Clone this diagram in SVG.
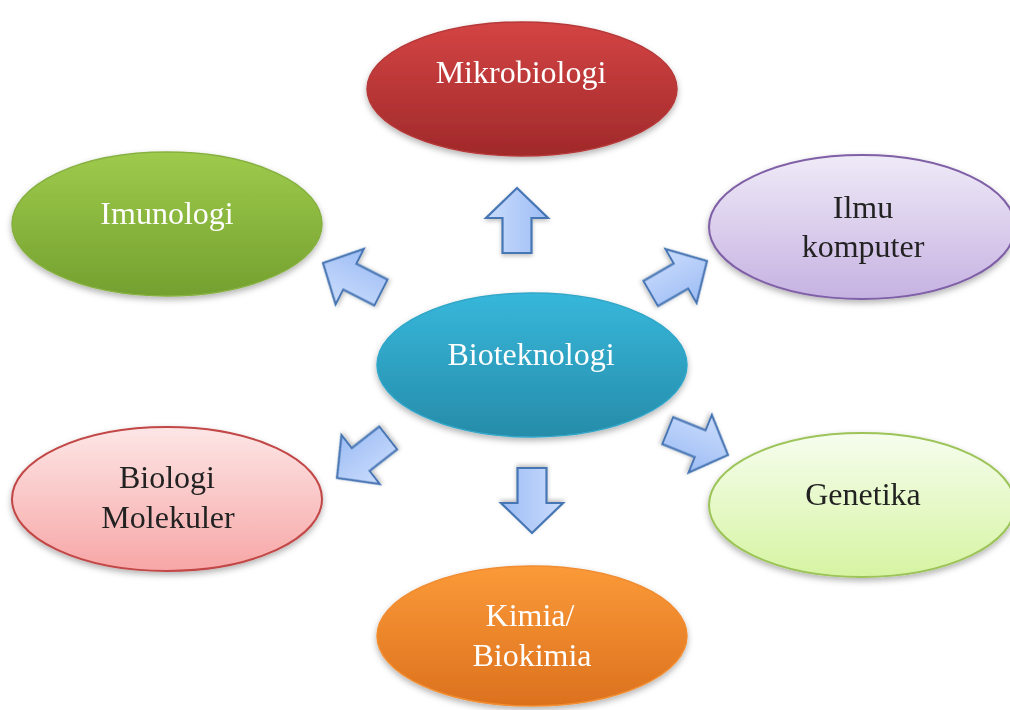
<svg xmlns="http://www.w3.org/2000/svg" width="1010" height="710" viewBox="0 0 1010 710">
<defs>
<linearGradient id="gRed" x1="0" y1="0" x2="0" y2="1"><stop offset="0" stop-color="#d44444"/><stop offset="1" stop-color="#a0292a"/></linearGradient>
<linearGradient id="gGreen" x1="0" y1="0" x2="0" y2="1"><stop offset="0" stop-color="#9ecb4c"/><stop offset="1" stop-color="#74a02f"/></linearGradient>
<linearGradient id="gLav" x1="0" y1="0" x2="0" y2="1"><stop offset="0" stop-color="#efeaf7"/><stop offset="1" stop-color="#c6b2e2"/></linearGradient>
<linearGradient id="gCyan" x1="0" y1="0" x2="0" y2="1"><stop offset="0" stop-color="#37b7db"/><stop offset="1" stop-color="#268ca9"/></linearGradient>
<linearGradient id="gPink" x1="0" y1="0" x2="0" y2="1"><stop offset="0" stop-color="#fde6e6"/><stop offset="1" stop-color="#f7a6a6"/></linearGradient>
<linearGradient id="gLime" x1="0" y1="0" x2="0" y2="1"><stop offset="0" stop-color="#f6fdee"/><stop offset="1" stop-color="#d6f4a2"/></linearGradient>
<linearGradient id="gOrange" x1="0" y1="0" x2="0" y2="1"><stop offset="0" stop-color="#fb9a38"/><stop offset="1" stop-color="#dc711e"/></linearGradient>
<linearGradient id="gArrow" x1="0" y1="0" x2="1" y2="0"><stop offset="0" stop-color="#cadcfc"/><stop offset="1" stop-color="#9dbdf5"/></linearGradient>
<filter id="sh" x="-10%" y="-10%" width="120%" height="130%"><feDropShadow dx="0" dy="3" stdDeviation="3" flood-color="#000" flood-opacity="0.3"/></filter>
<filter id="ash" x="-30%" y="-30%" width="160%" height="160%"><feDropShadow dx="0" dy="2" stdDeviation="2" flood-color="#000" flood-opacity="0.25"/></filter>
<path id="arr" d="M0,0 L31,30 L14.5,30 L14.5,65 L-14.5,65 L-14.5,30 L-31,30 Z"/>
</defs>
<style>
.lbl{font-family:"Liberation Serif","Times New Roman",serif;font-size:32px;text-anchor:middle}
.w{fill:#ffffff}
.d{fill:#222222}
.node{filter:url(#sh)}
.a{fill:url(#gArrow);stroke:#4776b4;stroke-width:2.2;stroke-linejoin:miter;filter:url(#ash)}
</style>
<rect width="1010" height="710" fill="#ffffff"/>
<g id="connectors">
<use href="#arr" class="a" transform="translate(517,188)"/>
<use href="#arr" class="a" transform="translate(532,533) rotate(180)"/>
<use href="#arr" class="a" transform="translate(323,263) rotate(-63)"/>
<use href="#arr" class="a" transform="translate(707,261) rotate(60)"/>
<use href="#arr" class="a" transform="translate(337,478) rotate(-128)"/>
<use href="#arr" class="a" transform="translate(728,455) rotate(112)"/>
</g>
<g id="mikrobiologi" class="node">
<ellipse cx="522" cy="89" rx="155" ry="67" fill="url(#gRed)" stroke="#b63838" stroke-width="1.5"/>
<text class="lbl w" x="521" y="83">Mikrobiologi</text>
</g>
<g id="imunologi" class="node">
<ellipse cx="167" cy="224" rx="155" ry="72" fill="url(#gGreen)" stroke="#86b040" stroke-width="1.5"/>
<text class="lbl w" x="167" y="224">Imunologi</text>
</g>
<g id="ilmu-komputer" class="node">
<ellipse cx="862" cy="227" rx="153" ry="72" fill="url(#gLav)" stroke="#7f5fa6" stroke-width="2"/>
<text class="lbl d" x="863" y="218">Ilmu</text>
<text class="lbl d" x="863" y="257">komputer</text>
</g>
<g id="bioteknologi" class="node">
<ellipse cx="532" cy="365" rx="155" ry="72" fill="url(#gCyan)" stroke="#30a6c8" stroke-width="1.5"/>
<text class="lbl w" x="531" y="365">Bioteknologi</text>
</g>
<g id="biologi-molekuler" class="node">
<ellipse cx="167" cy="499" rx="155" ry="72" fill="url(#gPink)" stroke="#c24646" stroke-width="2"/>
<text class="lbl d" x="167" y="488">Biologi</text>
<text class="lbl d" x="168" y="528">Molekuler</text>
</g>
<g id="genetika" class="node">
<ellipse cx="862" cy="505" rx="153" ry="72" fill="url(#gLime)" stroke="#9cc458" stroke-width="2"/>
<text class="lbl d" x="863" y="505">Genetika</text>
</g>
<g id="kimia-biokimia" class="node">
<ellipse cx="532" cy="636" rx="155" ry="70" fill="url(#gOrange)" stroke="#f08c30" stroke-width="1.5"/>
<text class="lbl w" x="530" y="626">Kimia/</text>
<text class="lbl w" x="532" y="666">Biokimia</text>
</g>
</svg>
